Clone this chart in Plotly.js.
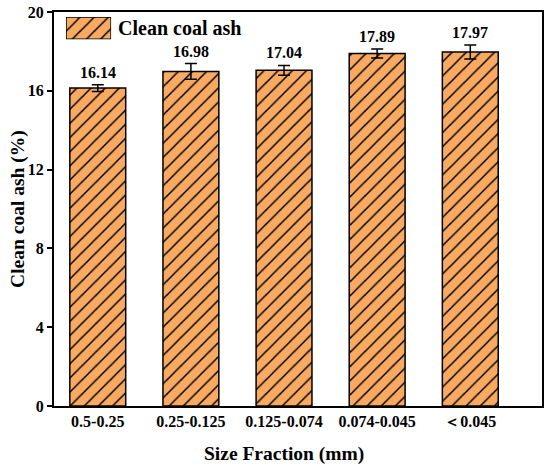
<!DOCTYPE html>
<html>
<head>
<meta charset="utf-8">
<script src="https://cdn.plot.ly/plotly-3.0.1.min.js"></script>
<style>html,body{margin:0;padding:0;background:#fff;}#chart{width:550px;height:471px;}</style>
</head>
<body>
<div id="chart"></div>
<script>
const categories = ["0.5-0.25", "0.25-0.125", "0.125-0.074", "0.074-0.045", "＜0.045"];
const ashValues = [16.14, 16.98, 17.04, 17.89, 17.97];
const ashErrors = [0.17, 0.40, 0.25, 0.23, 0.35];
const yTicks = [0, 4, 8, 12, 16, 20];
const seriesName = "Clean coal ash";
const xTitle = "Size Fraction (mm)";
const yTitle = "Clean coal ash (%)";
const legendSwatch = [1];

const fontFam = "Liberation Serif";
const fill = "#F9AA62";
const pat = {shape: "/", size: 10, solidity: 0.15, fgcolor: "#000", bgcolor: fill};

const trace = {
  type: "bar",
  x: categories,
  y: ashValues,
  name: seriesName,
  width: 0.6,
  showlegend: false,
  marker: {color: fill, line: {color: "#000", width: 1.5}, pattern: pat},
  error_y: {type: "data", array: ashErrors, visible: true, color: "#000", thickness: 1.5, width: 6}
};

const swatch = {
  type: "bar", x: [0], y: legendSwatch, width: 1, xaxis: "x2", yaxis: "y2",
  showlegend: false, hoverinfo: "skip",
  marker: {color: fill, line: {color: "#000", width: 1.5}, pattern: pat}
};

const annotations = categories.map((c, i) => ({
  x: c, y: ashValues[i] + ashErrors[i], xref: "x", yref: "y",
  text: "<b>" + ashValues[i].toFixed(2) + "</b>", showarrow: false,
  yanchor: "bottom", yshift: 2,
  font: {family: fontFam, size: 16, color: "#000"}
}));
annotations.push({
  xref: "paper", yref: "paper", x: 0.128, y: 0.959, xanchor: "left", yanchor: "middle",
  text: "<b>" + seriesName + "</b>", showarrow: false,
  font: {family: fontFam, size: 20, color: "#000"}
});
annotations.push({
  xref: "paper", yref: "paper", x: 0.471, y: -0.122, xanchor: "center", yanchor: "middle",
  text: "<b>" + xTitle + "</b>", showarrow: false,
  font: {family: fontFam, size: 19.5, color: "#000"}
});
annotations.push({
  xref: "paper", yref: "paper", x: -0.074, y: 0.5, xanchor: "center", yanchor: "middle",
  text: "<b>" + yTitle + "</b>", showarrow: false, textangle: -90,
  font: {family: fontFam, size: 19.5, color: "#000"}
});

const layout = {
  width: 550, height: 471,
  margin: {l: 54, r: 8, t: 12, b: 65},
  paper_bgcolor: "#fff", plot_bgcolor: "#fff",
  font: {family: fontFam, color: "#000"},
  showlegend: false,
  xaxis: {
    type: "category", range: [-0.47, 4.77],
    showline: true, linecolor: "#000", linewidth: 2, mirror: true,
    ticks: "", showgrid: false, zeroline: false,
    tickfont: {family: fontFam, size: 16, color: "#000", weight: "bold"}
  },
  yaxis: {
    range: [0, 20], tickvals: yTicks, ticktext: yTicks.map(String),
    showline: true, linecolor: "#000", linewidth: 2, mirror: true,
    ticks: "outside", ticklen: 5, tickwidth: 2, tickcolor: "#000",
    showgrid: false, zeroline: false,
    tickfont: {family: fontFam, size: 16, color: "#000", weight: "bold"}
  },
  xaxis2: {domain: [0.0246, 0.117], anchor: "y2", range: [-0.5, 0.5], visible: false, fixedrange: true},
  yaxis2: {domain: [0.931, 0.987], anchor: "x2", range: [0, 1], visible: false, fixedrange: true},
  annotations: annotations
};

Plotly.newPlot("chart", [trace, swatch], layout, {displayModeBar: false, staticPlot: true});
</script>
</body>
</html>
